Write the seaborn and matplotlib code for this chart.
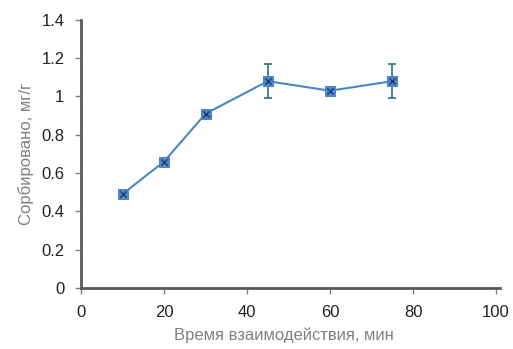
import matplotlib
matplotlib.use("Agg")
import matplotlib.pyplot as plt
import seaborn as sns
import pandas as pd

time_min = [10, 20, 30, 45, 60, 75]
sorbed = [0.49, 0.66, 0.91, 1.08, 1.03, 1.08]
err = [0.015, 0.015, 0.015, 0.09, 0.015, 0.09]
x_ticks = [0, 20, 40, 60, 80, 100]
y_ticks = [0, 0.2, 0.4, 0.6, 0.8, 1.0, 1.2, 1.4]
y_tick_labels = ["0", "0.2", "0.4", "0.6", "0.8", "1", "1.2", "1.4"]

sns.set_theme(style="white")
plt.rcParams['font.family'] = ['Liberation Sans', 'DejaVu Sans']

df = pd.DataFrame({"t": time_min, "s": sorbed, "e": err})

fig = plt.figure(figsize=(5.13, 3.49), dpi=100)
ax = fig.add_axes([0.158, 0.175, 0.817, 0.768])

ax.errorbar(df["t"], df["s"], yerr=df["e"], xerr=0.8, fmt="none",
            ecolor="#2f6f80", elinewidth=1.2, capsize=3, capthick=1.2, zorder=2)
sns.lineplot(data=df, x="t", y="s", ax=ax, color="#4a86c8", linewidth=1.5,
             marker="s", markersize=7, markerfacecolor="#4a86c8",
             markeredgecolor="#4a86c8", zorder=3)
sns.scatterplot(data=df, x="t", y="s", ax=ax, marker="x", color="#1f3f6a",
                s=20, linewidth=1.0, zorder=4)

ax.set_xlim(0, 101)
ax.set_ylim(0, 1.4)
ax.set_xticks(x_ticks)
ax.set_yticks(y_ticks)
ax.set_yticklabels(y_tick_labels)

for side in ["top", "right"]:
    ax.spines[side].set_visible(False)
for side in ["left", "bottom"]:
    ax.spines[side].set_color("#595959")
    ax.spines[side].set_linewidth(2)

ax.tick_params(axis="both", which="major", length=4, width=1, color="#808080",
               direction="out", labelsize=12, labelcolor="#222222", pad=8,
               bottom=True, left=True)

ax.set_xlabel("Время взаимодействия, мин", fontsize=12, color="#808080")
ax.xaxis.set_label_coords(0.485, -0.148)
ax.set_ylabel("Сорбировано, мг/г", fontsize=12, color="#808080", labelpad=5)

fig.savefig("out.png", dpi=100)
